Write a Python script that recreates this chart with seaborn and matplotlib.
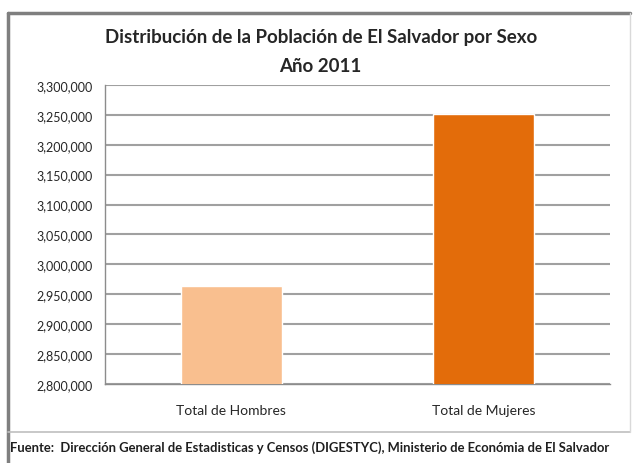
import matplotlib
matplotlib.use("Agg")
import matplotlib.pyplot as plt
import pandas as pd
import seaborn as sns
from matplotlib.lines import Line2D
from matplotlib.ticker import FuncFormatter, MultipleLocator, FixedLocator

categories = ["Total de Hombres", "Total de Mujeres"]
population = [2964000, 3251000]
bar_colors = ["#F9BF8F", "#E36C0A"]

title = "Distribución de la Población de El Salvador por Sexo\nAño 2011"
source = "Fuente:  Dirección General de Estadisticas y Censos (DIGESTYC), Ministerio de Económia de El Salvador"

sns.set_theme(style="white")
plt.rcParams["font.family"] = ["Lato", "DejaVu Sans"]

df = pd.DataFrame({"sexo": categories, "poblacion": population})

fig = plt.figure(figsize=(6.35, 4.64), dpi=100)
ax = fig.add_axes([0.165, 0.170, 0.796, 0.645])

sns.barplot(data=df, x="sexo", y="poblacion", hue="sexo", palette=bar_colors,
            width=0.4, ax=ax, legend=False, saturation=1, zorder=3)

grid_c = "#A0A0A0"
ax.set_ylim(2800000, 3300000)
ax.set_xlim(-0.5, 1.5)
ax.yaxis.set_major_locator(MultipleLocator(50000))
ax.yaxis.set_major_formatter(FuncFormatter(lambda v, p: f"{int(v):,}"))
ax.grid(axis="y", color=grid_c, linewidth=1.5, zorder=0)
ax.set_axisbelow(True)
ax.set_xlabel("")
ax.set_ylabel("")

for side in ["top", "right"]:
    ax.spines[side].set_visible(False)
for side in ["left", "bottom"]:
    ax.spines[side].set_color("#8C8C8C")
    ax.spines[side].set_linewidth(1.0)

ax.tick_params(axis="y", direction="out", length=5, color="#8C8C8C", width=1,
               labelsize=9, labelcolor="#262626", pad=4)
ax.tick_params(axis="x", which="major", length=0, labelsize=10, labelcolor="#262626", pad=14)
ax.xaxis.set_minor_locator(FixedLocator([-0.5, 0.5, 1.5]))
ax.tick_params(axis="x", which="minor", direction="out", length=5, color="#8C8C8C", width=1)

fig.text(0.505, 1 - 29 / 464, title, ha="center", va="top", fontsize=13.5, fontweight="bold",
         color="#262626", linespacing=1.85)
fig.text(0.016, 0.026, source, ha="left", va="baseline", fontsize=9.4, fontweight="bold",
         color="#1F1F1F")

# chart frame as in the spreadsheet export
x0, x1 = 8 / 635, 630 / 635
y_top, y_box = 1 - 14 / 464, 1 - 433 / 464
fig.add_artist(Line2D([x0, x1], [y_top, y_top], color="#7F7F7F", linewidth=2.5))
fig.add_artist(Line2D([x0, x0], [0, y_top], color="#7F7F7F", linewidth=2.5))
fig.add_artist(Line2D([x0, x1], [y_box, y_box], color="#BFBFBF", linewidth=1.2))
fig.add_artist(Line2D([x1, x1], [y_box, y_top], color="#D9D9D9", linewidth=1.0))

fig.savefig("out.png", dpi=100)
